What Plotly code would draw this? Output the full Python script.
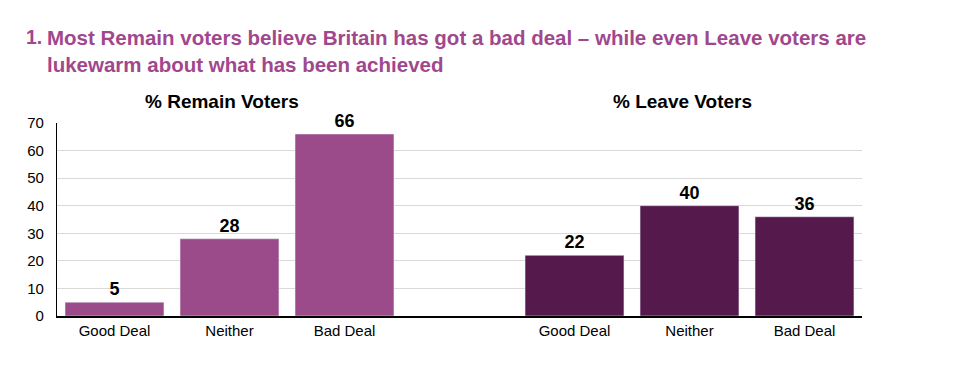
import plotly.graph_objects as go

categories = ["Good Deal", "Neither", "Bad Deal"]
remain_values = [5, 28, 66]
leave_values = [22, 40, 36]
y_ticks = [0, 10, 20, 30, 40, 50, 60, 70]

title_color = "#a0478d"
remain_color = "#9b4a8a"
leave_color = "#551a4b"
font = "Liberation Sans, Arial, sans-serif"

remain_x = [0, 1, 2]
leave_x = [4, 5, 6]

# page body has an 8px default margin; compensate
OFF = 8
L, R, T, B = 57 - OFF, 96, 123 - OFF, 52
PW = 805

fig = go.Figure()
for xs, vals, col in [(remain_x, remain_values, remain_color),
                      (leave_x, leave_values, leave_color)]:
    fig.add_trace(go.Bar(x=xs, y=vals, marker_color=col, width=0.86,
                         text=[str(v) for v in vals],
                         texttemplate="<b>%{text}</b>",
                         textposition="outside", cliponaxis=False,
                         textfont=dict(family=font, size=18, color="#000"),
                         hoverinfo="skip"))

fig.update_layout(
    width=958 - OFF, height=368 - OFF,
    margin=dict(l=L, r=R, t=T, b=B),
    paper_bgcolor="white", plot_bgcolor="white",
    showlegend=False,
    font=dict(family=font, color="#000"),
)
fig.update_xaxes(range=[-0.5, 6.5], tickmode="array",
                 tickvals=remain_x + leave_x, ticktext=categories + categories,
                 showline=True, linecolor="#000", linewidth=1.5,
                 showgrid=False, ticks="", tickfont=dict(size=15, color="#000"),
                 ticklabelstandoff=0,
                 zeroline=False, fixedrange=True)
fig.update_yaxes(range=[0, 70], tickvals=y_ticks, showline=True, linecolor="#000",
                 linewidth=1.2, showgrid=True, gridcolor="#d9d9d9", gridwidth=1,
                 ticks="", tickfont=dict(size=15, color="#000"),
                 ticklabelstandoff=9, zeroline=False, fixedrange=True)

fig.add_annotation(xref="paper", yref="paper", x=(222 - 57) / PW, y=1.0,
                   xanchor="center", yanchor="middle", yshift=22,
                   text="<b>% Remain Voters</b>", showarrow=False,
                   font=dict(size=19, color="#000", family=font))
fig.add_annotation(xref="paper", yref="paper", x=(682 - 57) / PW, y=1.0,
                   xanchor="center", yanchor="middle", yshift=22,
                   text="<b>% Leave Voters</b>", showarrow=False,
                   font=dict(size=19, color="#000", family=font))

fig.add_annotation(xref="paper", yref="paper", x=(24 - 57) / PW, y=1.0,
                   xanchor="left", yanchor="top", yshift=123 - 24,
                   text="<b>1.</b>", showarrow=False, align="left",
                   font=dict(size=19.5, color=title_color, family=font))
fig.add_annotation(xref="paper", yref="paper", x=(45 - 57) / PW, y=1.0,
                   xanchor="left", yanchor="top", yshift=123 - 24,
                   text="<b>Most Remain voters believe Britain has got a bad deal – while even Leave voters are<br>lukewarm about what has been achieved</b>",
                   showarrow=False, align="left",
                   font=dict(size=20.5, color=title_color, family=font))

fig.write_html("out.html")
